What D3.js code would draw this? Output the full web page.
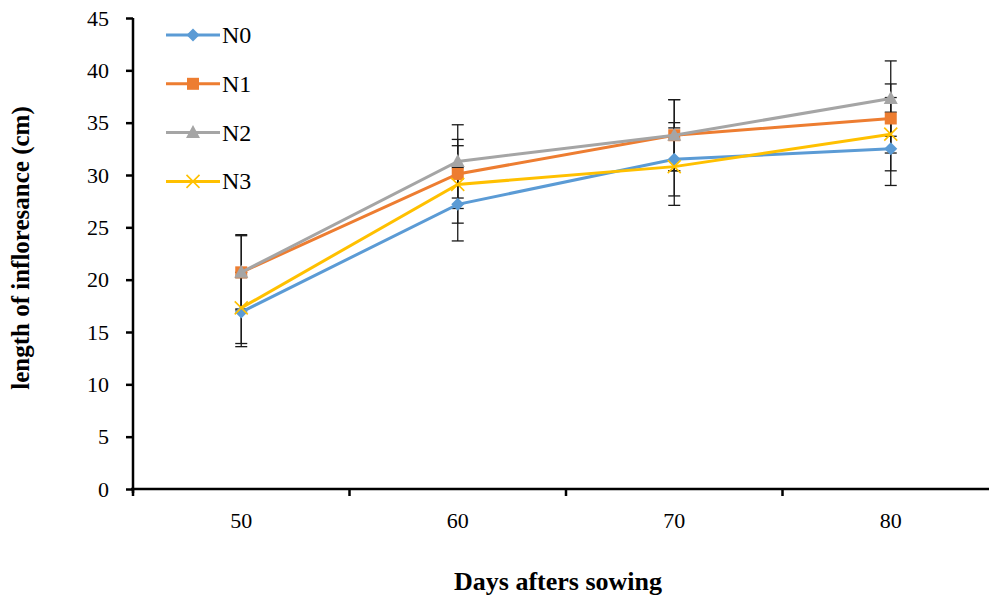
<!DOCTYPE html>
<html>
<head>
<meta charset="utf-8">
<script src="https://d3js.org/d3.v7.min.js"></script>
<style>
  body { margin: 0; background: #fff; }
  text { font-family: "Liberation Serif", "Times New Roman", serif; }
</style>
</head>
<body>
<div id="chart"></div>
<script>
// data
var days = ["50", "60", "70", "80"];
var seriesNames = ["N0", "N1", "N2", "N3"];
var n0 = [16.9, 27.2, 31.5, 32.5];
var n1 = [20.7, 30.1, 33.8, 35.4];
var n2 = [20.7, 31.3, 33.8, 37.3];
var n3 = [17.3, 29.1, 30.8, 33.9];
var n0err = [3.3, 3.5, 3.5, 3.5];
var n1err = [3.5, 3.3, 3.4, 3.3];
var n2err = [3.6, 3.5, 3.4, 3.6];
var n3err = [3.4, 3.7, 3.7, 3.5];
var yTicks = [0, 5, 10, 15, 20, 25, 30, 35, 40, 45];

var colors = ["#5B9BD5", "#ED7D31", "#A5A5A5", "#FFC000"];
var markers = ["diamond", "square", "triangle", "cross"];

var series = [
  {name: seriesNames[0], vals: n0, err: n0err},
  {name: seriesNames[1], vals: n1, err: n1err},
  {name: seriesNames[2], vals: n2, err: n2err},
  {name: seriesNames[3], vals: n3, err: n3err}
];

var W = 989, H = 599;
var svg = d3.select("#chart").append("svg")
  .attr("width", W).attr("height", H);

var x = d3.scaleBand().domain(days).range([133, 999]).padding(0);
var y = d3.scaleLinear().domain([0, 45]).range([489, 18]);

// y axis
var yAxis = svg.append("g")
  .attr("transform", "translate(133,0)")
  .call(d3.axisLeft(y).tickValues(yTicks).tickSize(7).tickPadding(17));
yAxis.select(".domain").attr("stroke", "#000").attr("stroke-width", 2.5)
  .attr("d", "M0,18V493");
yAxis.selectAll(".tick line").attr("stroke", "#000").attr("stroke-width", 2.5);
yAxis.selectAll(".tick text").attr("font-size", 22).attr("fill", "#000")
  .attr("font-family", "Liberation Serif");

// x axis: ticks at category boundaries
var xAxis = svg.append("g").attr("transform", "translate(0,489)");
xAxis.append("line").attr("x1", 131).attr("x2", 999)
  .attr("stroke", "#000").attr("stroke-width", 2.5);
xAxis.selectAll(".bt").data(days).enter().append("line")
  .attr("x1", function(d) { return x(d); })
  .attr("x2", function(d) { return x(d); })
  .attr("y1", 0).attr("y2", 7)
  .attr("stroke", "#000").attr("stroke-width", 2.5);
xAxis.selectAll(".lbl").data(days).enter().append("text")
  .attr("x", function(d) { return x(d) + x.bandwidth() / 2; })
  .attr("y", 39)
  .attr("text-anchor", "middle")
  .attr("font-size", 22)
  .text(function(d) { return d; });

function cx(i) { return x(days[i]) + x.bandwidth() / 2; }

// error bars
series.forEach(function(s) {
  var g = svg.append("g").attr("stroke", "#1a1a1a").attr("stroke-width", 1.3);
  s.vals.forEach(function(v, i) {
    var px = cx(i), hi = y(v + s.err[i]), lo = y(v - s.err[i]);
    g.append("line").attr("x1", px).attr("x2", px).attr("y1", hi).attr("y2", lo);
    g.append("line").attr("x1", px - 6).attr("x2", px + 6).attr("y1", hi).attr("y2", hi);
    g.append("line").attr("x1", px - 6).attr("x2", px + 6).attr("y1", lo).attr("y2", lo);
  });
});

function drawMarker(g, type, px, py, color) {
  if (type === "diamond") {
    g.append("path").attr("d", "M" + px + "," + (py - 6.5) + "L" + (px + 6.5) + "," + py +
      "L" + px + "," + (py + 6.5) + "L" + (px - 6.5) + "," + py + "Z").attr("fill", color);
  } else if (type === "square") {
    g.append("rect").attr("x", px - 6).attr("y", py - 6)
      .attr("width", 12).attr("height", 12).attr("fill", color);
  } else if (type === "triangle") {
    g.append("path").attr("d", "M" + px + "," + (py - 7.5) + "L" + (px + 7) + "," + (py + 5.5) +
      "L" + (px - 7) + "," + (py + 5.5) + "Z").attr("fill", color);
  } else {
    g.append("path").attr("d", "M" + (px - 6.5) + "," + (py - 6.5) + "L" + (px + 6.5) + "," + (py + 6.5) +
      "M" + (px + 6.5) + "," + (py - 6.5) + "L" + (px - 6.5) + "," + (py + 6.5))
      .attr("stroke", color).attr("stroke-width", 1.6).attr("fill", "none");
  }
}

var line = d3.line()
  .x(function(d, i) { return cx(i); })
  .y(function(d) { return y(d); });

series.forEach(function(s, k) {
  var g = svg.append("g");
  g.append("path").datum(s.vals).attr("d", line)
    .attr("fill", "none").attr("stroke", colors[k]).attr("stroke-width", 3);
  s.vals.forEach(function(v, i) { drawMarker(g, markers[k], cx(i), y(v), colors[k]); });
});

// legend
var legend = svg.append("g");
series.forEach(function(s, k) {
  var ly = 35 + k * 48.8;
  legend.append("line").attr("x1", 166).attr("x2", 220).attr("y1", ly).attr("y2", ly)
    .attr("stroke", colors[k]).attr("stroke-width", 3);
  drawMarker(legend, markers[k], 193, ly, colors[k]);
  legend.append("text").attr("x", 222).attr("y", ly + 8)
    .attr("font-size", 24).text(s.name);
});

// axis titles
svg.append("text")
  .attr("transform", "translate(29,248) rotate(-90)")
  .attr("text-anchor", "middle").attr("font-weight", "bold").attr("font-size", 25)
  .text("length of infloresance (cm)");
svg.append("text")
  .attr("x", 558).attr("y", 590)
  .attr("text-anchor", "middle").attr("font-weight", "bold").attr("font-size", 26)
  .text("Days afters sowing");
</script>
</body>
</html>
